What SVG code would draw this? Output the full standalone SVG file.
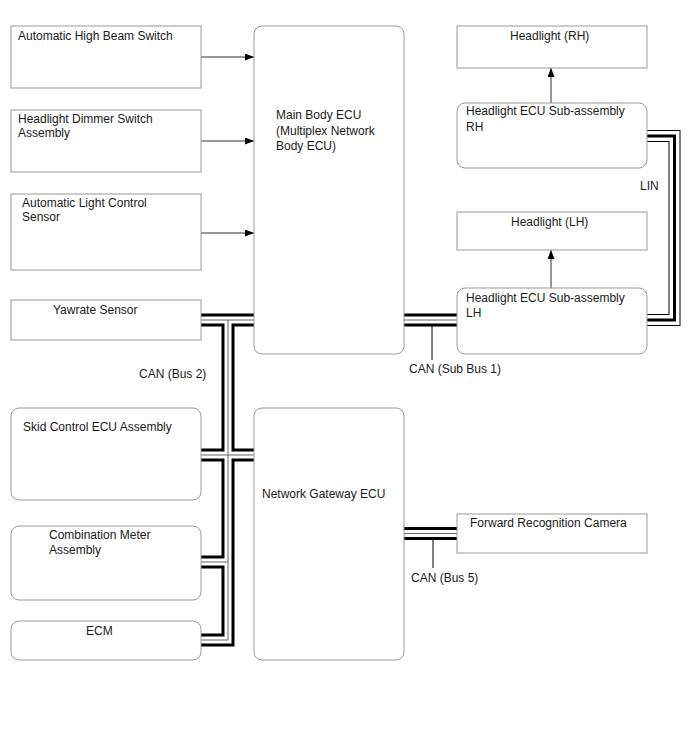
<svg xmlns="http://www.w3.org/2000/svg" width="688" height="755" viewBox="0 0 688 755">
<defs>
<marker id="ah" markerWidth="9" markerHeight="7" refX="9" refY="3.5" orient="auto" markerUnits="userSpaceOnUse"><path d="M0,0 L9,3.5 L0,7 z" fill="#000"/></marker>
<style>
.box{fill:#fff;stroke:#9a9a9a;stroke-width:1}
.t{font-family:"Liberation Sans",Arial,sans-serif;font-size:12px;fill:#1a1a1a}
.arr{stroke:#333;stroke-width:1;fill:none}
.b1{stroke:#000;stroke-width:13;fill:none}
.b2{stroke:#fff;stroke-width:7;fill:none}
.b3{stroke:#666;stroke-width:1;fill:none}
.l1{stroke:#000;stroke-width:12;fill:none}
.l2{stroke:#fff;stroke-width:10;fill:none}
.l3{stroke:#000;stroke-width:3;fill:none}
.drop{stroke:#000;stroke-width:1;fill:none}
</style>
</defs>
<rect width="688" height="755" fill="#fff"/>

<g id="connectors">
<!-- CAN Bus 2 -->
<path class="b1" d="M201,320 H254 M228,320 V640 H201 M201,455 H254 M201,562 H228"/>
<path class="b2" d="M201,320 H254 M228,320 V640 H201 M201,455 H254 M201,562 H228"/>
<path class="b3" d="M201,320 H254 M228,320 V640 H201 M201,455 H254 M201,562 H228"/>
<!-- CAN Sub Bus 1 -->
<path class="b1" d="M404,320 H457"/>
<path class="b2" d="M404,320 H457"/>
<path class="b3" d="M404,320 H457"/>
<path class="drop" d="M432,326 V360"/>
<!-- CAN Bus 5 -->
<path class="b1" d="M404,533.5 H457"/>
<path class="b2" d="M404,533.5 H457"/>
<path class="b3" d="M404,533.5 H457"/>
<path class="drop" d="M433,540 V568"/>
<!-- LIN -->
<path class="l1" d="M647,136 H674.5 V320 H647"/>
<path class="l2" d="M647,136 H674.5 V320 H647"/>
<path class="l3" d="M647,136 H674.5 V320 H647"/>
<!-- arrows -->
<path class="arr" d="M201,57 H254" marker-end="url(#ah)"/>
<path class="arr" d="M201,141 H254" marker-end="url(#ah)"/>
<path class="arr" d="M201,233 H254" marker-end="url(#ah)"/>
<path class="arr" d="M551,103 V68" marker-end="url(#ah)"/>
<path class="arr" d="M551,288 V250" marker-end="url(#ah)"/>
<text class="t" x="139" y="378">CAN (Bus 2)</text>
<text class="t" x="409" y="373">CAN (Sub Bus 1)</text>
<text class="t" x="411" y="582">CAN (Bus 5)</text>
<text class="t" x="640" y="190">LIN</text>
</g>

<g id="n-ahbs"><rect class="box" x="11" y="26" width="190" height="62"/><text class="t" x="18" y="40">Automatic High Beam Switch</text></g>
<g id="n-hdsa"><rect class="box" x="11" y="110" width="190" height="62"/><text class="t" x="18" y="123">Headlight Dimmer Switch</text><text class="t" x="18" y="137">Assembly</text></g>
<g id="n-alcs"><rect class="box" x="11" y="194" width="190" height="76"/><text class="t" x="22" y="207">Automatic Light Control</text><text class="t" x="22" y="221">Sensor</text></g>
<g id="n-yaw"><rect class="box" x="11" y="300" width="190" height="40"/><text class="t" x="53" y="314">Yawrate Sensor</text></g>
<g id="n-skid"><rect class="box" x="11" y="408" width="190" height="92" rx="8"/><text class="t" x="23" y="431">Skid Control ECU Assembly</text></g>
<g id="n-meter"><rect class="box" x="11" y="526" width="190" height="74" rx="8"/><text class="t" x="49" y="539">Combination Meter</text><text class="t" x="49" y="554">Assembly</text></g>
<g id="n-ecm"><rect class="box" x="11" y="621" width="190" height="39" rx="8"/><text class="t" x="86" y="635">ECM</text></g>
<g id="n-main"><rect class="box" x="254" y="26" width="150" height="328" rx="8"/><text class="t" x="276" y="119">Main Body ECU</text><text class="t" x="276" y="135">(Multiplex Network</text><text class="t" x="276" y="150">Body ECU)</text></g>
<g id="n-gw"><rect class="box" x="254" y="408" width="150" height="252" rx="8"/><text class="t" x="262" y="498">Network Gateway ECU</text></g>
<g id="n-hlrh"><rect class="box" x="457" y="26" width="190" height="42"/><text class="t" x="510" y="40">Headlight (RH)</text></g>
<g id="n-ecurh"><rect class="box" x="457" y="103" width="190" height="65" rx="8"/><text class="t" x="466" y="115">Headlight ECU Sub-assembly</text><text class="t" x="466" y="131">RH</text></g>
<g id="n-hllh"><rect class="box" x="457" y="212" width="190" height="38"/><text class="t" x="511" y="226">Headlight (LH)</text></g>
<g id="n-eculh"><rect class="box" x="457" y="288" width="190" height="66" rx="8"/><text class="t" x="466" y="302">Headlight ECU Sub-assembly</text><text class="t" x="466" y="317">LH</text></g>
<g id="n-frc"><rect class="box" x="457" y="514" width="190" height="39"/><text class="t" x="470" y="527">Forward Recognition Camera</text></g>
</svg>
